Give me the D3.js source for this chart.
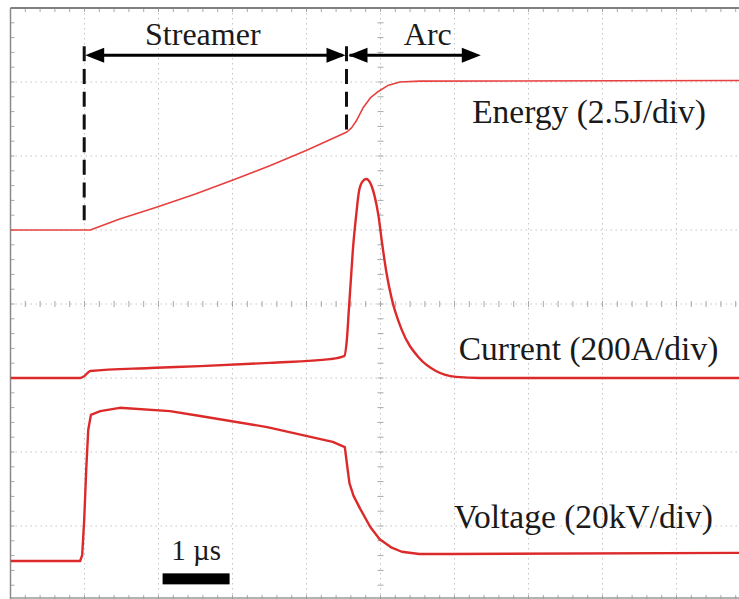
<!DOCTYPE html>
<html>
<head>
<meta charset="utf-8">
<script src="https://cdn.jsdelivr.net/npm/d3@7/dist/d3.min.js"></script>
<style>
  html, body { margin: 0; padding: 0; background: #fff; }
  svg { display: block; }
  text { font-family: "Liberation Serif", "Times New Roman", serif; fill: #1a1a1a; }
</style>
</head>
<body>
<svg id="chart" width="739" height="599"></svg>
<script>
// ---------------- DATA ----------------
// time in microseconds from left edge of screen
const energyT = [0, 1.19, 1.63, 2.19, 2.76, 3.32, 3.88, 4.43, 5.02, 5.09, 5.16, 5.26, 5.37, 5.49, 5.63, 5.81, 6.11, 11.1];
const energyJ = [0, 0, 0.37, 0.78, 1.22, 1.69, 2.18, 2.70, 3.31, 3.45, 3.68, 4.12, 4.46, 4.68, 4.88, 5.00, 5.03, 5.05];

const currentT = [0, 1.04, 1.10, 1.19, 2.08, 2.83, 3.87, 4.77, 4.98, 5.02, 5.05, 5.08, 5.11, 5.16, 5.20, 5.25, 5.31, 5.37, 5.43, 5.49, 5.55, 5.61, 5.69, 5.84, 6.10, 6.35, 6.65, 7.01, 11.1];
const currentA = [0, 0, 5, 19, 27, 32, 41, 51, 59, 103, 184, 265, 346, 441, 503, 530, 538, 527, 495, 441, 359, 286, 214, 130, 54, 19, 3, 0, 0];

const voltageT = [0, 1.04, 1.07, 1.10, 1.13, 1.16, 1.20, 1.34, 1.63, 2.38, 2.83, 3.83, 4.81, 4.99, 5.03, 5.06, 5.12, 5.22, 5.37, 5.51, 5.69, 5.84, 6.10, 6.56, 11.1];
const voltageKV = [0, 0, 1.6, 11.1, 24.6, 35.4, 39.5, 40.5, 41.4, 40.5, 39.2, 36.2, 32.2, 30.8, 25.0, 21.0, 17.6, 14.1, 9.2, 5.9, 3.6, 2.5, 1.9, 1.9, 2.2];

// channel settings: offset in divisions from bottom, units per division
const energyScale = { offset: 5.0, perDiv: 2.5 };
const currentScale = { offset: 3.0, perDiv: 200 };
const voltageScale = { offset: 0.527, perDiv: 20 };

const labels = ["Energy (2.5J/div)", "Current (200A/div)", "Voltage (20kV/div)"];
const phaseLabels = ["Streamer", "Arc"];
const streamerStart = 1.10, arcStart = 5.03, arcArrowEnd = 7.02;
const scaleBarLabel = "1 µs";
const scaleBarStart = 2.27, scaleBarLength = 1.0;

// ---------------- LAYOUT ----------------
const svg = d3.select("#chart");
const usPerDiv = 74 / 67;
const nDivX = 10, nDivY = 8;
const x = d3.scaleLinear().domain([0, nDivX * usPerDiv]).range([10.5, 750.5]);
const y = d3.scaleLinear().domain([0, nDivY]).range([600, 8]);

// ---------------- GRID ----------------
const grid = svg.append("g");
const gridColor = "#c4c4c4";
d3.range(1, nDivX + 1).forEach(i => {
  const gx = x(i * usPerDiv);
  grid.append("line").attr("x1", gx).attr("x2", gx).attr("y1", y(nDivY)).attr("y2", y(0))
    .attr("stroke", gridColor).attr("stroke-width", 1).attr("stroke-dasharray", "1.5,3.5");
});
d3.range(1, nDivY).forEach(j => {
  const gy = y(j);
  grid.append("line").attr("x1", x(0)).attr("x2", 739).attr("y1", gy).attr("y2", gy)
    .attr("stroke", gridColor).attr("stroke-width", 1).attr("stroke-dasharray", "1.5,3.5");
});
// minor ticks along edges and center axes
const minorX = d3.range(0, nDivX * 5 + 1).map(k => k / 5 * usPerDiv);
const minorY = d3.range(0, nDivY * 5 + 1).map(k => k / 5);
minorX.forEach(t => {
  const gx = x(t);
  [[y(nDivY), y(nDivY) + 4], [y(0) - 5, y(0)], [y(4) - 3, y(4) + 3]].forEach(([a, b]) => {
    grid.append("line").attr("x1", gx).attr("x2", gx).attr("y1", a).attr("y2", b)
      .attr("stroke", "#a8a8a8").attr("stroke-width", 1);
  });
});
minorY.forEach(v => {
  const gy = y(v);
  [[x(0), x(0) + 4], [x(5 * usPerDiv) - 3, x(5 * usPerDiv) + 3]].forEach(([a, b]) => {
    grid.append("line").attr("x1", a).attr("x2", b).attr("y1", gy).attr("y2", gy)
      .attr("stroke", "#a8a8a8").attr("stroke-width", 1);
  });
});
// frame
grid.append("line").attr("x1", x(0)).attr("x2", 739).attr("y1", y(nDivY)).attr("y2", y(nDivY))
  .attr("stroke", "#808080").attr("stroke-width", 2);
grid.append("line").attr("x1", x(0)).attr("x2", 739).attr("y1", y(0) - 2).attr("y2", y(0) - 2)
  .attr("stroke", "#9a9a9a").attr("stroke-width", 1.5);
grid.append("line").attr("x1", x(0)).attr("x2", x(0)).attr("y1", y(nDivY)).attr("y2", y(0))
  .attr("stroke", "#8a8a8a").attr("stroke-width", 1.5);

// ---------------- TRACES ----------------
svg.append("clipPath").attr("id", "plotClip").append("rect")
  .attr("x", x(0)).attr("y", y(nDivY)).attr("width", 739 - x(0)).attr("height", y(0) - y(nDivY));
const traces = svg.append("g").attr("clip-path", "url(#plotClip)");

function drawTrace(ts, vs, sc, color, width, curve) {
  const pts = ts.map((t, i) => [t, sc.offset + vs[i] / sc.perDiv]);
  const line = d3.line().x(d => x(d[0])).y(d => y(d[1])).curve(curve);
  traces.append("path").attr("d", line(pts)).attr("fill", "none")
    .attr("stroke", color).attr("stroke-width", width).attr("stroke-linejoin", "round");
}
drawTrace(energyT, energyJ, energyScale, "#e8403f", 1.6, d3.curveLinear);
drawTrace(currentT, currentA, currentScale, "#dc2a2a", 2.4, d3.curveMonotoneX);
drawTrace(voltageT, voltageKV, voltageScale, "#dc2a2a", 2.4, d3.curveLinear);

// ---------------- ANNOTATIONS ----------------
const ann = svg.append("g");
const arrowY = y(7.36);
// dashed markers
ann.append("line").attr("x1", x(streamerStart)).attr("x2", x(streamerStart))
  .attr("y1", arrowY - 9).attr("y2", y(energyScale.offset) - 7)
  .attr("stroke", "#111").attr("stroke-width", 3).attr("stroke-dasharray", "15,7.7");
ann.append("line").attr("x1", x(arcStart) - 1).attr("x2", x(arcStart) - 1)
  .attr("y1", arrowY - 9).attr("y2", y(6.34))
  .attr("stroke", "#111").attr("stroke-width", 3).attr("stroke-dasharray", "15,7.7");

function arrowHead(tipX, dir) {
  const len = 19, hh = 7.5;
  ann.append("path")
    .attr("d", `M${tipX},${arrowY} L${tipX + dir * len},${arrowY - hh} L${tipX + dir * len},${arrowY + hh} Z`)
    .attr("fill", "#000");
}
// streamer double arrow
ann.append("line").attr("x1", x(streamerStart) + 5).attr("x2", x(arcStart) - 5)
  .attr("y1", arrowY).attr("y2", arrowY).attr("stroke", "#000").attr("stroke-width", 3);
arrowHead(x(streamerStart) + 1, 1);
arrowHead(x(arcStart) - 2, -1);
// arc arrow
ann.append("line").attr("x1", x(arcStart) + 2).attr("x2", x(arcArrowEnd) - 8)
  .attr("y1", arrowY).attr("y2", arrowY).attr("stroke", "#000").attr("stroke-width", 3);
arrowHead(x(arcStart) + 1, 1);
arrowHead(x(arcArrowEnd), -1);

ann.append("text").attr("x", x(2.87)).attr("y", y(7.5)).attr("text-anchor", "middle")
  .attr("font-size", 32).text(phaseLabels[0]);
ann.append("text").attr("x", x(5.87)).attr("y", y(7.5))
  .attr("font-size", 32).text(phaseLabels[1]);

// channel labels
ann.append("text").attr("x", x(6.89)).attr("y", y(6.45)).attr("font-size", 33.5).text(labels[0]);
ann.append("text").attr("x", x(6.69)).attr("y", y(3.24)).attr("font-size", 33.5).text(labels[1]);
ann.append("text").attr("x", x(6.62)).attr("y", y(0.97)).attr("font-size", 33.5).text(labels[2]);

// scale bar
ann.append("rect").attr("x", x(scaleBarStart)).attr("y", y(0.36))
  .attr("width", x(scaleBarStart + scaleBarLength) - x(scaleBarStart)).attr("height", 11)
  .attr("fill", "#000");
ann.append("text").attr("x", (x(scaleBarStart) + x(scaleBarStart + scaleBarLength)) / 2)
  .attr("y", y(0.54)).attr("text-anchor", "middle").attr("font-size", 29).text(scaleBarLabel);
</script>
</body>
</html>
